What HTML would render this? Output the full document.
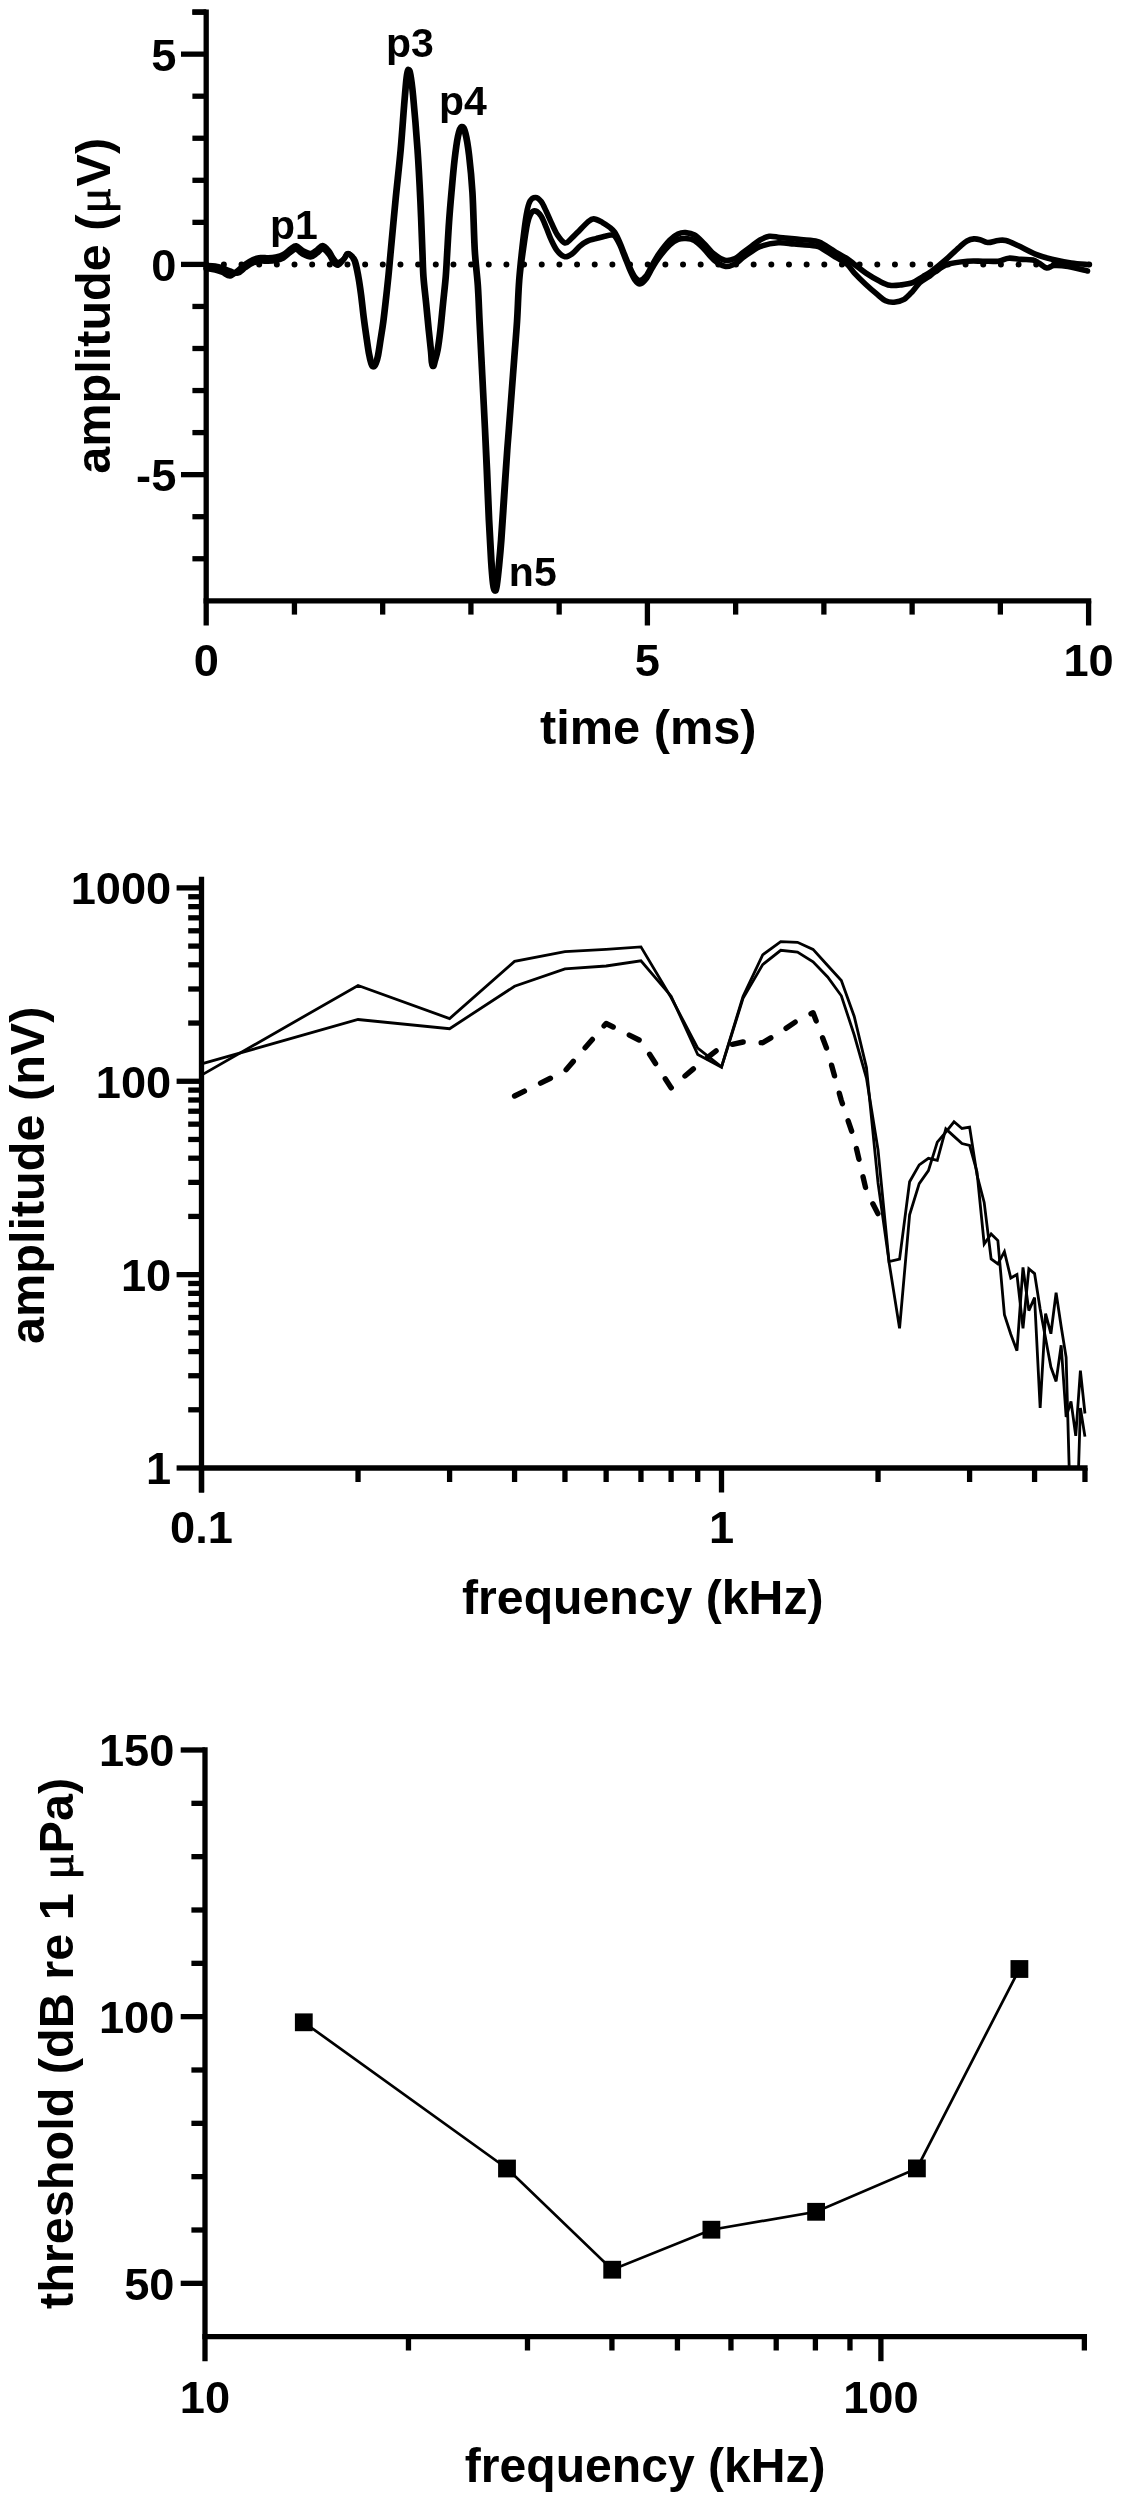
<!DOCTYPE html>
<html><head><meta charset="utf-8"><style>
html,body{margin:0;padding:0;background:#fff;}
svg{display:block;filter:grayscale(1);}
text{font-family:"Liberation Sans", sans-serif;font-weight:bold;fill:#000;}
</style></head><body>
<svg width="1122" height="2500" viewBox="0 0 1122 2500">
<rect width="1122" height="2500" fill="#fff"/>
<line x1="206.20" y1="264.40" x2="1089.60" y2="264.40" stroke="#000" stroke-width="6.0" stroke-linecap="round" stroke-dasharray="0 17.66"/>
<path d="M206.00,268.50 C207.53,268.75 212.42,269.33 215.20,270.00 C217.98,270.67 220.23,271.50 222.70,272.50 C225.17,273.50 227.47,276.33 230.00,276.00 C232.53,275.67 235.32,272.50 237.90,270.50 C240.48,268.50 242.98,265.83 245.50,264.00 C248.02,262.17 250.48,260.58 253.00,259.50 C255.52,258.42 258.07,257.78 260.60,257.50 C263.13,257.22 265.67,257.88 268.20,257.80 C270.73,257.72 273.28,257.55 275.80,257.00 C278.32,256.45 280.78,255.92 283.30,254.50 C285.82,253.08 288.75,249.95 290.90,248.50 C293.05,247.05 294.18,245.42 296.20,245.80 C298.22,246.18 300.60,249.52 303.00,250.80 C305.40,252.08 308.32,253.63 310.60,253.50 C312.88,253.37 314.68,251.33 316.70,250.00 C318.72,248.67 320.68,245.37 322.70,245.50 C324.72,245.63 327.03,248.67 328.80,250.80 C330.57,252.93 331.78,256.35 333.30,258.30 C334.82,260.25 336.13,262.38 337.90,262.50 C339.67,262.62 342.37,260.42 343.90,259.00 C345.43,257.58 346.00,254.67 347.10,254.00 C348.20,253.33 349.30,253.83 350.50,255.00 C351.70,256.17 353.08,257.38 354.30,261.00 C355.52,264.62 356.77,271.10 357.80,276.70 C358.83,282.30 359.60,287.77 360.50,294.60 C361.40,301.43 362.32,310.72 363.20,317.70 C364.08,324.68 364.95,330.62 365.80,336.50 C366.65,342.38 367.47,348.50 368.30,353.00 C369.13,357.50 370.02,361.20 370.80,363.50 C371.58,365.80 372.27,366.80 373.00,366.80 C373.73,366.80 374.47,365.30 375.20,363.50 C375.93,361.70 376.58,360.07 377.40,356.00 C378.22,351.93 379.20,344.88 380.10,339.10 C381.00,333.32 381.90,328.13 382.80,321.30 C383.70,314.47 384.67,305.53 385.50,298.10 C386.33,290.67 387.00,284.72 387.80,276.70 C388.60,268.68 389.10,262.78 390.30,250.00 C391.50,237.22 393.37,216.67 395.00,200.00 C396.63,183.33 398.67,165.83 400.10,150.00 C401.53,134.17 402.62,117.00 403.60,105.00 C404.58,93.00 405.30,83.90 406.00,78.00 C406.70,72.10 407.17,70.27 407.80,69.60 C408.43,68.93 409.02,69.77 409.80,74.00 C410.58,78.23 411.30,82.33 412.50,95.00 C413.70,107.67 415.78,132.50 417.00,150.00 C418.22,167.50 419.00,183.33 419.80,200.00 C420.60,216.67 421.28,237.22 421.80,250.00 C422.32,262.78 422.27,267.78 422.90,276.70 C423.53,285.62 424.72,294.58 425.60,303.50 C426.48,312.42 427.38,322.18 428.20,330.20 C429.02,338.22 429.98,346.30 430.50,351.60 C431.02,356.90 430.95,359.52 431.30,362.00 C431.65,364.48 432.15,366.50 432.60,366.50 C433.05,366.50 433.25,364.78 434.00,362.00 C434.75,359.22 436.13,355.10 437.10,349.80 C438.07,344.50 438.90,337.92 439.80,330.20 C440.70,322.48 441.60,312.42 442.50,303.50 C443.40,294.58 444.52,285.02 445.20,276.70 C445.88,268.38 446.05,262.72 446.60,253.60 C447.15,244.48 447.78,232.17 448.50,222.00 C449.22,211.83 449.98,202.93 450.90,192.60 C451.82,182.27 452.90,169.43 454.00,160.00 C455.10,150.57 456.30,141.57 457.50,136.00 C458.70,130.43 459.98,127.10 461.20,126.60 C462.42,126.10 463.58,128.27 464.80,133.00 C466.02,137.73 467.32,145.07 468.50,155.00 C469.68,164.93 470.95,176.77 471.90,192.60 C472.85,208.43 473.30,234.48 474.20,250.00 C475.10,265.52 476.50,273.82 477.30,285.70 C478.10,297.58 478.42,309.42 479.00,321.30 C479.58,333.18 480.20,345.12 480.80,357.00 C481.40,368.88 482.00,380.72 482.60,392.60 C483.20,404.48 483.80,415.40 484.40,428.30 C485.00,441.20 485.55,454.72 486.20,470.00 C486.85,485.28 487.58,505.00 488.30,520.00 C489.02,535.00 489.80,549.33 490.50,560.00 C491.20,570.67 491.88,578.87 492.50,584.00 C493.12,589.13 493.62,590.63 494.20,590.80 C494.78,590.97 495.32,589.30 496.00,585.00 C496.68,580.70 497.55,572.50 498.30,565.00 C499.05,557.50 499.63,551.67 500.50,540.00 C501.37,528.33 502.47,510.00 503.50,495.00 C504.53,480.00 505.88,461.12 506.70,450.00 C507.52,438.88 507.67,437.87 508.40,428.30 C509.13,418.73 510.20,404.48 511.10,392.60 C512.00,380.72 512.90,368.88 513.80,357.00 C514.70,345.12 515.68,334.17 516.50,321.30 C517.32,308.43 517.70,292.95 518.70,279.80 C519.70,266.65 521.25,253.22 522.50,242.40 C523.75,231.58 524.95,221.77 526.20,214.90 C527.45,208.03 528.43,204.10 530.00,201.20 C531.57,198.30 533.73,197.45 535.60,197.50 C537.47,197.55 539.43,199.22 541.20,201.50 C542.97,203.78 544.53,207.72 546.20,211.20 C547.87,214.68 549.33,218.45 551.20,222.40 C553.07,226.35 555.12,231.47 557.40,234.90 C559.68,238.33 562.60,242.38 564.90,243.00 C567.20,243.62 568.70,240.78 571.20,238.60 C573.70,236.42 577.20,232.60 579.90,229.90 C582.60,227.20 585.12,224.23 587.40,222.40 C589.68,220.57 591.12,218.90 593.60,218.90 C596.08,218.90 599.60,220.98 602.30,222.40 C605.00,223.82 607.72,225.73 609.80,227.40 C611.88,229.07 613.13,229.90 614.80,232.40 C616.47,234.90 618.13,238.65 619.80,242.40 C621.47,246.15 623.13,250.75 624.80,254.90 C626.47,259.05 628.13,263.62 629.80,267.30 C631.47,270.98 633.13,274.78 634.80,277.00 C636.47,279.22 637.93,280.75 639.80,280.60 C641.67,280.45 643.92,278.72 646.00,276.10 C648.08,273.48 650.13,268.65 652.30,264.90 C654.47,261.15 656.10,257.72 659.00,253.60 C661.90,249.48 666.53,243.47 669.70,240.20 C672.87,236.93 675.35,235.27 678.00,234.00 C680.65,232.73 682.85,232.43 685.60,232.60 C688.35,232.77 691.43,233.18 694.50,235.00 C697.57,236.82 700.75,240.33 704.00,243.50 C707.25,246.67 710.53,251.20 714.00,254.00 C717.47,256.80 721.30,259.55 724.80,260.30 C728.30,261.05 731.97,259.80 735.00,258.50 C738.03,257.20 740.25,254.53 743.00,252.50 C745.75,250.47 748.67,248.38 751.50,246.30 C754.33,244.22 757.03,241.67 760.00,240.00 C762.97,238.33 765.97,236.72 769.30,236.30 C772.63,235.88 775.83,237.07 780.00,237.50 C784.17,237.93 788.37,238.32 794.30,238.90 C800.23,239.48 810.85,240.15 815.60,241.00 C820.35,241.85 819.23,242.00 822.80,244.00 C826.37,246.00 832.97,250.58 837.00,253.00 C841.03,255.42 844.13,256.63 847.00,258.50 C849.87,260.37 851.10,261.82 854.20,264.20 C857.30,266.58 861.33,269.95 865.60,272.80 C869.87,275.65 875.77,279.22 879.80,281.30 C883.83,283.38 886.23,284.70 889.80,285.30 C893.37,285.90 897.40,285.33 901.20,284.90 C905.00,284.47 909.03,284.05 912.60,282.70 C916.17,281.35 919.50,278.67 922.60,276.80 C925.70,274.93 927.43,274.27 931.20,271.50 C934.97,268.73 940.35,264.40 945.20,260.20 C950.05,256.00 956.67,249.50 960.30,246.30 C963.93,243.10 964.73,242.23 967.00,241.00 C969.27,239.77 971.73,239.12 973.90,238.90 C976.07,238.68 977.72,239.10 980.00,239.70 C982.28,240.30 984.57,242.37 987.60,242.50 C990.63,242.63 995.17,240.83 998.20,240.50 C1001.23,240.17 1002.52,239.67 1005.80,240.50 C1009.08,241.33 1012.87,243.18 1017.90,245.50 C1022.93,247.82 1030.32,252.12 1036.00,254.40 C1041.68,256.68 1046.12,257.78 1052.00,259.20 C1057.88,260.62 1065.22,262.02 1071.30,262.90 C1077.38,263.78 1085.63,264.23 1088.50,264.50" fill="none" stroke="#000" stroke-width="5.6" stroke-linejoin="round" stroke-linecap="round"/>
<path d="M206.00,265.50 C207.53,265.58 212.42,265.58 215.20,266.00 C217.98,266.42 220.23,267.17 222.70,268.00 C225.17,268.83 227.47,270.15 230.00,271.00 C232.53,271.85 235.32,273.66 237.90,273.08 C240.48,272.50 242.98,269.18 245.50,267.50 C248.02,265.82 250.48,264.08 253.00,263.00 C255.52,261.92 258.07,261.28 260.60,261.00 C263.13,260.72 265.67,261.38 268.20,261.30 C270.73,261.22 273.28,261.05 275.80,260.50 C278.32,259.95 280.78,259.42 283.30,258.00 C285.82,256.58 288.75,253.45 290.90,252.00 C293.05,250.55 294.18,248.92 296.20,249.30 C298.22,249.68 300.60,253.02 303.00,254.30 C305.40,255.58 308.32,257.13 310.60,257.00 C312.88,256.87 314.68,254.83 316.70,253.50 C318.72,252.17 320.68,248.87 322.70,249.00 C324.72,249.13 327.03,252.17 328.80,254.30 C330.57,256.43 331.78,259.99 333.30,261.80 C334.82,263.61 336.13,265.63 337.90,265.17 C339.67,264.71 342.37,260.90 343.90,259.04 C345.43,257.18 346.00,254.67 347.10,254.00 C348.20,253.33 349.12,253.83 350.50,255.00 C351.88,256.17 354.00,257.38 355.40,261.00 C356.80,264.62 357.87,271.10 358.90,276.70 C359.93,282.30 360.70,287.77 361.60,294.60 C362.50,301.43 363.42,310.72 364.30,317.70 C365.18,324.68 366.05,330.62 366.90,336.50 C367.75,342.38 368.57,348.50 369.40,353.00 C370.23,357.50 371.12,361.20 371.90,363.50 C372.68,365.80 373.37,366.80 374.10,366.80 C374.83,366.80 375.57,365.30 376.30,363.50 C377.03,361.70 377.68,360.07 378.50,356.00 C379.32,351.93 380.30,344.88 381.20,339.10 C382.10,333.32 383.00,328.13 383.90,321.30 C384.80,314.47 385.77,305.53 386.60,298.10 C387.43,290.67 388.10,284.72 388.90,276.70 C389.70,268.68 390.20,262.78 391.40,250.00 C392.60,237.22 394.47,216.67 396.10,200.00 C397.73,183.33 399.77,165.83 401.20,150.00 C402.63,134.17 403.72,116.90 404.70,105.00 C405.68,93.10 406.40,84.40 407.10,78.60 C407.80,72.80 408.27,70.87 408.90,70.20 C409.53,69.53 410.12,70.37 410.90,74.60 C411.68,78.83 412.40,83.03 413.60,95.60 C414.80,108.17 416.88,132.60 418.10,150.00 C419.32,167.40 420.10,183.33 420.90,200.00 C421.70,216.67 422.38,237.22 422.90,250.00 C423.42,262.78 423.37,267.78 424.00,276.70 C424.63,285.62 425.82,294.58 426.70,303.50 C427.58,312.42 428.48,322.18 429.30,330.20 C430.12,338.22 431.08,346.30 431.60,351.60 C432.12,356.90 432.05,359.52 432.40,362.00 C432.75,364.48 433.25,366.50 433.70,366.50 C434.15,366.50 434.35,364.78 435.10,362.00 C435.85,359.22 437.23,355.10 438.20,349.80 C439.17,344.50 440.00,337.92 440.90,330.20 C441.80,322.48 442.70,312.42 443.60,303.50 C444.50,294.58 445.62,285.02 446.30,276.70 C446.98,268.38 447.15,262.72 447.70,253.60 C448.25,244.48 448.88,232.17 449.60,222.00 C450.32,211.83 451.08,202.93 452.00,192.60 C452.92,182.27 454.00,169.43 455.10,160.00 C456.20,150.57 457.40,141.57 458.60,136.00 C459.80,130.43 461.08,127.10 462.30,126.60 C463.52,126.10 464.68,128.27 465.90,133.00 C467.12,137.73 468.42,145.07 469.60,155.00 C470.78,164.93 472.05,176.77 473.00,192.60 C473.95,208.43 474.40,234.48 475.30,250.00 C476.20,265.52 477.60,273.82 478.40,285.70 C479.20,297.58 479.52,309.42 480.10,321.30 C480.68,333.18 481.30,345.12 481.90,357.00 C482.50,368.88 483.10,380.72 483.70,392.60 C484.30,404.48 484.85,415.40 485.50,428.30 C486.15,441.20 486.90,454.72 487.60,470.00 C488.30,485.28 488.98,505.00 489.70,520.00 C490.42,535.00 491.20,549.33 491.90,560.00 C492.60,570.67 493.28,578.87 493.90,584.00 C494.52,589.13 495.02,590.63 495.60,590.80 C496.18,590.97 496.72,589.30 497.40,585.00 C498.08,580.70 498.95,572.50 499.70,565.00 C500.45,557.50 501.03,551.67 501.90,540.00 C502.77,528.33 503.92,510.00 504.90,495.00 C505.88,480.00 507.03,461.12 507.80,450.00 C508.57,438.88 508.77,437.87 509.50,428.30 C510.23,418.73 511.30,404.48 512.20,392.60 C513.10,380.72 514.00,368.88 514.90,357.00 C515.80,345.12 516.78,334.17 517.60,321.30 C518.42,308.43 518.80,291.92 519.80,279.80 C520.80,267.68 522.32,257.95 523.60,248.60 C524.88,239.25 526.23,229.60 527.50,223.70 C528.77,217.80 529.85,215.32 531.20,213.20 C532.55,211.08 533.93,210.50 535.60,211.00 C537.27,211.50 539.43,213.47 541.20,216.20 C542.97,218.93 544.53,223.45 546.20,227.40 C547.87,231.35 549.33,235.95 551.20,239.90 C553.07,243.85 555.12,248.30 557.40,251.10 C559.68,253.90 562.40,256.28 564.90,256.70 C567.40,257.12 569.90,255.37 572.40,253.60 C574.90,251.83 577.40,248.18 579.90,246.10 C582.40,244.02 584.70,242.35 587.40,241.10 C590.10,239.85 593.20,239.42 596.10,238.60 C599.00,237.78 602.30,236.80 604.80,236.20 C607.30,235.60 609.43,235.00 611.10,235.00 C612.77,235.00 613.35,234.55 614.80,236.20 C616.25,237.85 618.13,241.37 619.80,244.90 C621.47,248.43 623.13,253.25 624.80,257.40 C626.47,261.55 628.13,266.07 629.80,269.80 C631.47,273.53 633.13,277.43 634.80,279.80 C636.47,282.17 637.93,284.13 639.80,284.00 C641.67,283.87 643.92,281.67 646.00,279.00 C648.08,276.33 650.13,271.58 652.30,268.00 C654.47,264.42 656.10,261.33 659.00,257.50 C661.90,253.67 666.53,248.00 669.70,245.00 C672.87,242.00 675.35,240.58 678.00,239.50 C680.65,238.42 682.85,238.33 685.60,238.50 C688.35,238.67 691.43,238.75 694.50,240.50 C697.57,242.25 700.75,245.75 704.00,249.00 C707.25,252.25 710.53,257.12 714.00,260.00 C717.47,262.88 721.30,265.63 724.80,266.30 C728.30,266.97 731.97,265.47 735.00,264.00 C738.03,262.53 740.25,259.55 743.00,257.50 C745.75,255.45 748.67,253.53 751.50,251.70 C754.33,249.87 755.55,247.98 760.00,246.50 C764.45,245.02 772.48,243.22 778.20,242.80 C783.92,242.38 788.07,243.47 794.30,244.00 C800.53,244.53 810.85,245.17 815.60,246.00 C820.35,246.83 819.23,247.00 822.80,249.00 C826.37,251.00 832.97,255.47 837.00,258.00 C841.03,260.53 844.13,261.73 847.00,264.20 C849.87,266.67 851.10,269.47 854.20,272.80 C857.30,276.13 861.80,280.63 865.60,284.20 C869.40,287.77 873.68,291.43 877.00,294.20 C880.32,296.97 882.65,299.47 885.50,300.80 C888.35,302.13 891.00,302.43 894.10,302.20 C897.20,301.97 901.02,301.22 904.10,299.40 C907.18,297.58 910.00,294.08 912.60,291.30 C915.20,288.52 917.08,285.08 919.70,282.70 C922.32,280.32 925.75,278.78 928.30,277.00 C930.85,275.22 931.68,274.13 935.00,272.00 C938.32,269.87 942.72,266.00 948.20,264.20 C953.68,262.40 962.10,261.70 967.90,261.20 C973.70,260.70 977.95,261.20 983.00,261.20 C988.05,261.20 993.90,261.70 998.20,261.20 C1002.50,260.70 1005.02,258.50 1008.80,258.20 C1012.58,257.90 1016.87,259.12 1020.90,259.40 C1024.93,259.68 1029.97,259.27 1033.00,259.90 C1036.03,260.53 1036.82,261.85 1039.10,263.20 C1041.38,264.55 1044.18,267.62 1046.70,268.00 C1049.22,268.38 1050.63,265.75 1054.20,265.50 C1057.77,265.25 1062.55,265.58 1068.10,266.50 C1073.65,267.42 1084.27,270.25 1087.50,271.00" fill="none" stroke="#000" stroke-width="5.6" stroke-linejoin="round" stroke-linecap="round"/>
<line x1="206.20" y1="9.45" x2="206.20" y2="625.50" stroke="#000" stroke-width="5.3" stroke-linecap="butt"/>
<line x1="203.55" y1="600.80" x2="1091.25" y2="600.80" stroke="#000" stroke-width="5.3" stroke-linecap="butt"/>
<line x1="192.40" y1="558.75" x2="206.20" y2="558.75" stroke="#000" stroke-width="5.3" stroke-linecap="butt"/>
<line x1="192.40" y1="516.70" x2="206.20" y2="516.70" stroke="#000" stroke-width="5.3" stroke-linecap="butt"/>
<line x1="181.00" y1="474.65" x2="206.20" y2="474.65" stroke="#000" stroke-width="5.3" stroke-linecap="butt"/>
<line x1="192.40" y1="432.60" x2="206.20" y2="432.60" stroke="#000" stroke-width="5.3" stroke-linecap="butt"/>
<line x1="192.40" y1="390.55" x2="206.20" y2="390.55" stroke="#000" stroke-width="5.3" stroke-linecap="butt"/>
<line x1="192.40" y1="348.50" x2="206.20" y2="348.50" stroke="#000" stroke-width="5.3" stroke-linecap="butt"/>
<line x1="192.40" y1="306.45" x2="206.20" y2="306.45" stroke="#000" stroke-width="5.3" stroke-linecap="butt"/>
<line x1="181.00" y1="264.40" x2="206.20" y2="264.40" stroke="#000" stroke-width="5.3" stroke-linecap="butt"/>
<line x1="192.40" y1="222.35" x2="206.20" y2="222.35" stroke="#000" stroke-width="5.3" stroke-linecap="butt"/>
<line x1="192.40" y1="180.30" x2="206.20" y2="180.30" stroke="#000" stroke-width="5.3" stroke-linecap="butt"/>
<line x1="192.40" y1="138.25" x2="206.20" y2="138.25" stroke="#000" stroke-width="5.3" stroke-linecap="butt"/>
<line x1="192.40" y1="96.20" x2="206.20" y2="96.20" stroke="#000" stroke-width="5.3" stroke-linecap="butt"/>
<line x1="181.00" y1="54.15" x2="206.20" y2="54.15" stroke="#000" stroke-width="5.3" stroke-linecap="butt"/>
<line x1="192.40" y1="12.10" x2="206.20" y2="12.10" stroke="#000" stroke-width="5.3" stroke-linecap="butt"/>
<line x1="192.40" y1="12.10" x2="206.20" y2="12.10" stroke="#000" stroke-width="5.3" stroke-linecap="butt"/>
<line x1="294.44" y1="600.80" x2="294.44" y2="614.60" stroke="#000" stroke-width="5.3" stroke-linecap="butt"/>
<line x1="382.68" y1="600.80" x2="382.68" y2="614.60" stroke="#000" stroke-width="5.3" stroke-linecap="butt"/>
<line x1="470.92" y1="600.80" x2="470.92" y2="614.60" stroke="#000" stroke-width="5.3" stroke-linecap="butt"/>
<line x1="559.16" y1="600.80" x2="559.16" y2="614.60" stroke="#000" stroke-width="5.3" stroke-linecap="butt"/>
<line x1="647.40" y1="600.80" x2="647.40" y2="625.50" stroke="#000" stroke-width="5.3" stroke-linecap="butt"/>
<line x1="735.64" y1="600.80" x2="735.64" y2="614.60" stroke="#000" stroke-width="5.3" stroke-linecap="butt"/>
<line x1="823.88" y1="600.80" x2="823.88" y2="614.60" stroke="#000" stroke-width="5.3" stroke-linecap="butt"/>
<line x1="912.12" y1="600.80" x2="912.12" y2="614.60" stroke="#000" stroke-width="5.3" stroke-linecap="butt"/>
<line x1="1000.36" y1="600.80" x2="1000.36" y2="614.60" stroke="#000" stroke-width="5.3" stroke-linecap="butt"/>
<line x1="1088.60" y1="600.80" x2="1088.60" y2="625.50" stroke="#000" stroke-width="5.3" stroke-linecap="butt"/>
<text x="176.30" y="70.55" font-size="45.2" text-anchor="end" >5</text>
<text x="176.30" y="280.80" font-size="45.2" text-anchor="end" >0</text>
<text x="176.30" y="491.05" font-size="45.2" text-anchor="end" >-5</text>
<text x="206.20" y="675.80" font-size="45.2" text-anchor="middle" >0</text>
<text x="647.40" y="675.80" font-size="45.2" text-anchor="middle" >5</text>
<text x="1088.60" y="675.80" font-size="45.2" text-anchor="middle" >10</text>
<text x="648.30" y="744.20" font-size="48.7" text-anchor="middle" >time (ms)</text>
<text transform="translate(110,305.8) rotate(-90)" font-size="48.6" text-anchor="middle">amplitude (<tspan dx="0.95" font-family="Liberation Serif" font-weight="normal" stroke="#000" stroke-width="0.9">&#956;</tspan><tspan dx="0.95">V)</tspan></text>
<text x="293.90" y="238.90" font-size="41" text-anchor="middle" >p1</text>
<text x="410.00" y="56.50" font-size="41" text-anchor="middle" >p3</text>
<text x="463.00" y="115.00" font-size="41" text-anchor="middle" >p4</text>
<text x="532.80" y="585.90" font-size="41" text-anchor="middle" >n5</text>
<defs><clipPath id="c2"><rect x="150" y="860" width="960" height="608"/></clipPath></defs>
<path d="M201.50,1075.10 L358.04,985.50 L449.60,1018.60 L514.57,961.40 L564.96,951.60 L606.14,949.40 L640.95,946.90 L671.11,997.50 L697.71,1048.10 L721.50,1066.80 L743.02,996.60 L762.67,954.80 L780.75,941.70 L797.49,942.30 L813.07,949.40 L827.64,965.50 L841.33,980.60 L854.24,1016.50 L866.45,1067.60 L878.04,1183.00 L889.05,1261.60 L899.56,1259.10 L909.60,1181.70 L919.21,1164.90 L928.43,1158.30 L937.29,1160.30 L945.81,1128.90 L954.02,1136.40 L961.95,1143.50 L969.60,1145.30 L977.01,1172.00 L984.18,1244.00 L991.13,1234.00 L997.87,1240.60 L1004.42,1314.60 L1010.78,1334.20 L1016.96,1350.70 L1022.99,1267.40 L1028.85,1310.60 L1034.57,1297.60 L1040.15,1408.00 L1045.59,1313.70 L1050.90,1333.70 L1056.10,1292.70 L1061.17,1326.50 L1066.13,1357.40 L1070.99,1533.00 L1075.75,1560.00 L1080.40,1408.00 L1084.96,1436.60" fill="none" stroke="#000" stroke-width="2.8" stroke-linejoin="miter" stroke-miterlimit="3" clip-path="url(#c2)"/>
<path d="M201.50,1063.90 L358.04,1019.50 L449.60,1028.70 L514.57,986.30 L564.96,968.90 L606.14,966.00 L640.95,960.80 L671.11,996.20 L697.71,1054.50 L721.50,1067.20 L743.02,998.40 L762.67,964.60 L780.75,950.30 L797.49,952.10 L813.07,961.90 L827.64,977.00 L841.33,995.80 L854.24,1035.00 L866.45,1078.00 L878.04,1150.00 L889.05,1262.20 L899.56,1328.40 L909.60,1214.80 L919.21,1183.60 L928.43,1170.60 L937.29,1142.10 L945.81,1132.10 L954.02,1121.80 L961.95,1128.50 L969.60,1127.10 L977.01,1175.00 L984.18,1202.40 L991.13,1259.00 L997.87,1263.90 L1004.42,1251.60 L1010.78,1278.00 L1016.96,1274.50 L1022.99,1328.40 L1028.85,1268.70 L1034.57,1273.60 L1040.15,1309.00 L1045.59,1338.60 L1050.90,1367.10 L1056.10,1381.40 L1061.17,1345.30 L1066.13,1417.00 L1070.99,1401.40 L1075.75,1435.80 L1080.40,1370.70 L1084.96,1413.50" fill="none" stroke="#000" stroke-width="2.8" stroke-linejoin="miter" stroke-miterlimit="3" clip-path="url(#c2)"/>
<path d="M514.57,1096.00 L564.96,1071.00 L606.14,1023.50 L640.95,1040.90 L671.11,1087.80 L697.71,1065.20 L721.50,1046.70 L743.02,1042.00 L762.67,1042.70 L780.75,1032.00 L797.49,1020.50 L813.07,1012.70 L827.64,1051.00 L841.33,1100.50 L854.24,1139.00 L866.45,1191.40 L878.04,1213.90" fill="none" stroke="#000" stroke-width="5.4" stroke-linejoin="round" stroke-linecap="round" stroke-dasharray="11 18"/>
<line x1="201.50" y1="876.80" x2="201.50" y2="1492.50" stroke="#000" stroke-width="5.3" stroke-linecap="butt"/>
<line x1="198.85" y1="1468.00" x2="1087.61" y2="1468.00" stroke="#000" stroke-width="5.3" stroke-linecap="butt"/>
<line x1="176.60" y1="1468.00" x2="201.50" y2="1468.00" stroke="#000" stroke-width="5.3" stroke-linecap="butt"/>
<line x1="176.60" y1="1274.63" x2="201.50" y2="1274.63" stroke="#000" stroke-width="5.3" stroke-linecap="butt"/>
<line x1="176.60" y1="1081.26" x2="201.50" y2="1081.26" stroke="#000" stroke-width="5.3" stroke-linecap="butt"/>
<line x1="176.60" y1="887.89" x2="201.50" y2="887.89" stroke="#000" stroke-width="5.3" stroke-linecap="butt"/>
<line x1="188.20" y1="1409.79" x2="201.50" y2="1409.79" stroke="#000" stroke-width="5.3" stroke-linecap="butt"/>
<line x1="188.20" y1="1375.74" x2="201.50" y2="1375.74" stroke="#000" stroke-width="5.3" stroke-linecap="butt"/>
<line x1="188.20" y1="1351.58" x2="201.50" y2="1351.58" stroke="#000" stroke-width="5.3" stroke-linecap="butt"/>
<line x1="188.20" y1="1332.84" x2="201.50" y2="1332.84" stroke="#000" stroke-width="5.3" stroke-linecap="butt"/>
<line x1="188.20" y1="1317.53" x2="201.50" y2="1317.53" stroke="#000" stroke-width="5.3" stroke-linecap="butt"/>
<line x1="188.20" y1="1304.58" x2="201.50" y2="1304.58" stroke="#000" stroke-width="5.3" stroke-linecap="butt"/>
<line x1="188.20" y1="1293.37" x2="201.50" y2="1293.37" stroke="#000" stroke-width="5.3" stroke-linecap="butt"/>
<line x1="188.20" y1="1283.48" x2="201.50" y2="1283.48" stroke="#000" stroke-width="5.3" stroke-linecap="butt"/>
<line x1="188.20" y1="1216.42" x2="201.50" y2="1216.42" stroke="#000" stroke-width="5.3" stroke-linecap="butt"/>
<line x1="188.20" y1="1182.37" x2="201.50" y2="1182.37" stroke="#000" stroke-width="5.3" stroke-linecap="butt"/>
<line x1="188.20" y1="1158.21" x2="201.50" y2="1158.21" stroke="#000" stroke-width="5.3" stroke-linecap="butt"/>
<line x1="188.20" y1="1139.47" x2="201.50" y2="1139.47" stroke="#000" stroke-width="5.3" stroke-linecap="butt"/>
<line x1="188.20" y1="1124.16" x2="201.50" y2="1124.16" stroke="#000" stroke-width="5.3" stroke-linecap="butt"/>
<line x1="188.20" y1="1111.21" x2="201.50" y2="1111.21" stroke="#000" stroke-width="5.3" stroke-linecap="butt"/>
<line x1="188.20" y1="1100.00" x2="201.50" y2="1100.00" stroke="#000" stroke-width="5.3" stroke-linecap="butt"/>
<line x1="188.20" y1="1090.11" x2="201.50" y2="1090.11" stroke="#000" stroke-width="5.3" stroke-linecap="butt"/>
<line x1="188.20" y1="1023.05" x2="201.50" y2="1023.05" stroke="#000" stroke-width="5.3" stroke-linecap="butt"/>
<line x1="188.20" y1="989.00" x2="201.50" y2="989.00" stroke="#000" stroke-width="5.3" stroke-linecap="butt"/>
<line x1="188.20" y1="964.84" x2="201.50" y2="964.84" stroke="#000" stroke-width="5.3" stroke-linecap="butt"/>
<line x1="188.20" y1="946.10" x2="201.50" y2="946.10" stroke="#000" stroke-width="5.3" stroke-linecap="butt"/>
<line x1="188.20" y1="930.79" x2="201.50" y2="930.79" stroke="#000" stroke-width="5.3" stroke-linecap="butt"/>
<line x1="188.20" y1="917.84" x2="201.50" y2="917.84" stroke="#000" stroke-width="5.3" stroke-linecap="butt"/>
<line x1="188.20" y1="906.63" x2="201.50" y2="906.63" stroke="#000" stroke-width="5.3" stroke-linecap="butt"/>
<line x1="188.20" y1="896.74" x2="201.50" y2="896.74" stroke="#000" stroke-width="5.3" stroke-linecap="butt"/>
<text x="171.20" y="904.29" font-size="45.2" text-anchor="end" >1000</text>
<text x="171.20" y="1097.66" font-size="45.2" text-anchor="end" >100</text>
<text x="171.20" y="1291.03" font-size="45.2" text-anchor="end" >10</text>
<text x="171.20" y="1484.40" font-size="45.2" text-anchor="end" >1</text>
<line x1="201.50" y1="1468.00" x2="201.50" y2="1492.50" stroke="#000" stroke-width="5.3" stroke-linecap="butt"/>
<line x1="721.50" y1="1468.00" x2="721.50" y2="1492.50" stroke="#000" stroke-width="5.3" stroke-linecap="butt"/>
<line x1="358.04" y1="1468.00" x2="358.04" y2="1482.00" stroke="#000" stroke-width="5.3" stroke-linecap="butt"/>
<line x1="449.60" y1="1468.00" x2="449.60" y2="1482.00" stroke="#000" stroke-width="5.3" stroke-linecap="butt"/>
<line x1="514.57" y1="1468.00" x2="514.57" y2="1482.00" stroke="#000" stroke-width="5.3" stroke-linecap="butt"/>
<line x1="564.96" y1="1468.00" x2="564.96" y2="1482.00" stroke="#000" stroke-width="5.3" stroke-linecap="butt"/>
<line x1="606.14" y1="1468.00" x2="606.14" y2="1482.00" stroke="#000" stroke-width="5.3" stroke-linecap="butt"/>
<line x1="640.95" y1="1468.00" x2="640.95" y2="1482.00" stroke="#000" stroke-width="5.3" stroke-linecap="butt"/>
<line x1="671.11" y1="1468.00" x2="671.11" y2="1482.00" stroke="#000" stroke-width="5.3" stroke-linecap="butt"/>
<line x1="697.71" y1="1468.00" x2="697.71" y2="1482.00" stroke="#000" stroke-width="5.3" stroke-linecap="butt"/>
<line x1="878.04" y1="1468.00" x2="878.04" y2="1482.00" stroke="#000" stroke-width="5.3" stroke-linecap="butt"/>
<line x1="969.60" y1="1468.00" x2="969.60" y2="1482.00" stroke="#000" stroke-width="5.3" stroke-linecap="butt"/>
<line x1="1034.57" y1="1468.00" x2="1034.57" y2="1482.00" stroke="#000" stroke-width="5.3" stroke-linecap="butt"/>
<line x1="1084.96" y1="1468.00" x2="1084.96" y2="1482.00" stroke="#000" stroke-width="5.3" stroke-linecap="butt"/>
<text x="201.50" y="1543.00" font-size="45.2" text-anchor="middle" >0.1</text>
<text x="721.50" y="1543.00" font-size="45.2" text-anchor="middle" >1</text>
<text x="642.80" y="1614.10" font-size="48.2" text-anchor="middle" >frequency (kHz)</text>
<text transform="translate(44.4,1175.3) rotate(-90)" font-size="48.6" text-anchor="middle">amplitude (nV)</text>
<path d="M303.80,2022.30 L507.00,2168.50 L612.20,2269.70 L711.40,2229.70 L816.10,2211.80 L916.90,2168.40 L1019.40,1969.00" fill="none" stroke="#000" stroke-width="2.7" stroke-linejoin="miter"/>
<rect x="294.90" y="2013.40" width="17.8" height="17.8" fill="#000"/>
<rect x="498.10" y="2159.60" width="17.8" height="17.8" fill="#000"/>
<rect x="603.30" y="2260.80" width="17.8" height="17.8" fill="#000"/>
<rect x="702.50" y="2220.80" width="17.8" height="17.8" fill="#000"/>
<rect x="807.20" y="2202.90" width="17.8" height="17.8" fill="#000"/>
<rect x="908.00" y="2159.50" width="17.8" height="17.8" fill="#000"/>
<rect x="1010.50" y="1960.10" width="17.8" height="17.8" fill="#000"/>
<line x1="205.00" y1="1747.35" x2="205.00" y2="2361.20" stroke="#000" stroke-width="5.3" stroke-linecap="butt"/>
<line x1="202.35" y1="2336.66" x2="1087.02" y2="2336.66" stroke="#000" stroke-width="5.3" stroke-linecap="butt"/>
<line x1="180.70" y1="2283.33" x2="205.00" y2="2283.33" stroke="#000" stroke-width="5.3" stroke-linecap="butt"/>
<line x1="191.40" y1="2230.00" x2="205.00" y2="2230.00" stroke="#000" stroke-width="5.3" stroke-linecap="butt"/>
<line x1="191.40" y1="2176.66" x2="205.00" y2="2176.66" stroke="#000" stroke-width="5.3" stroke-linecap="butt"/>
<line x1="191.40" y1="2123.33" x2="205.00" y2="2123.33" stroke="#000" stroke-width="5.3" stroke-linecap="butt"/>
<line x1="191.40" y1="2070.00" x2="205.00" y2="2070.00" stroke="#000" stroke-width="5.3" stroke-linecap="butt"/>
<line x1="180.70" y1="2016.66" x2="205.00" y2="2016.66" stroke="#000" stroke-width="5.3" stroke-linecap="butt"/>
<line x1="191.40" y1="1963.33" x2="205.00" y2="1963.33" stroke="#000" stroke-width="5.3" stroke-linecap="butt"/>
<line x1="191.40" y1="1910.00" x2="205.00" y2="1910.00" stroke="#000" stroke-width="5.3" stroke-linecap="butt"/>
<line x1="191.40" y1="1856.67" x2="205.00" y2="1856.67" stroke="#000" stroke-width="5.3" stroke-linecap="butt"/>
<line x1="191.40" y1="1803.33" x2="205.00" y2="1803.33" stroke="#000" stroke-width="5.3" stroke-linecap="butt"/>
<line x1="180.70" y1="1750.00" x2="205.00" y2="1750.00" stroke="#000" stroke-width="5.3" stroke-linecap="butt"/>
<text x="174.40" y="1766.40" font-size="45.2" text-anchor="end" >150</text>
<text x="174.40" y="2033.07" font-size="45.2" text-anchor="end" >100</text>
<text x="174.40" y="2299.73" font-size="45.2" text-anchor="end" >50</text>
<line x1="880.90" y1="2336.66" x2="880.90" y2="2361.20" stroke="#000" stroke-width="5.3" stroke-linecap="butt"/>
<line x1="408.47" y1="2336.66" x2="408.47" y2="2350.50" stroke="#000" stroke-width="5.3" stroke-linecap="butt"/>
<line x1="527.49" y1="2336.66" x2="527.49" y2="2350.50" stroke="#000" stroke-width="5.3" stroke-linecap="butt"/>
<line x1="611.93" y1="2336.66" x2="611.93" y2="2350.50" stroke="#000" stroke-width="5.3" stroke-linecap="butt"/>
<line x1="677.43" y1="2336.66" x2="677.43" y2="2350.50" stroke="#000" stroke-width="5.3" stroke-linecap="butt"/>
<line x1="730.95" y1="2336.66" x2="730.95" y2="2350.50" stroke="#000" stroke-width="5.3" stroke-linecap="butt"/>
<line x1="776.20" y1="2336.66" x2="776.20" y2="2350.50" stroke="#000" stroke-width="5.3" stroke-linecap="butt"/>
<line x1="815.40" y1="2336.66" x2="815.40" y2="2350.50" stroke="#000" stroke-width="5.3" stroke-linecap="butt"/>
<line x1="849.97" y1="2336.66" x2="849.97" y2="2350.50" stroke="#000" stroke-width="5.3" stroke-linecap="butt"/>
<line x1="1084.37" y1="2336.66" x2="1084.37" y2="2350.50" stroke="#000" stroke-width="5.3" stroke-linecap="butt"/>
<text x="205.00" y="2412.60" font-size="45.2" text-anchor="middle" >10</text>
<text x="880.90" y="2412.60" font-size="45.2" text-anchor="middle" >100</text>
<text x="645.20" y="2482.00" font-size="48.1" text-anchor="middle" >frequency (kHz)</text>
<text transform="translate(72.8,2043.4) rotate(-90)" font-size="48.6" text-anchor="middle">threshold (dB re 1 <tspan dx="0.15" font-family="Liberation Serif" font-weight="normal" stroke="#000" stroke-width="0.9">&#956;</tspan><tspan dx="0.15">Pa)</tspan></text>
</svg></body></html>
